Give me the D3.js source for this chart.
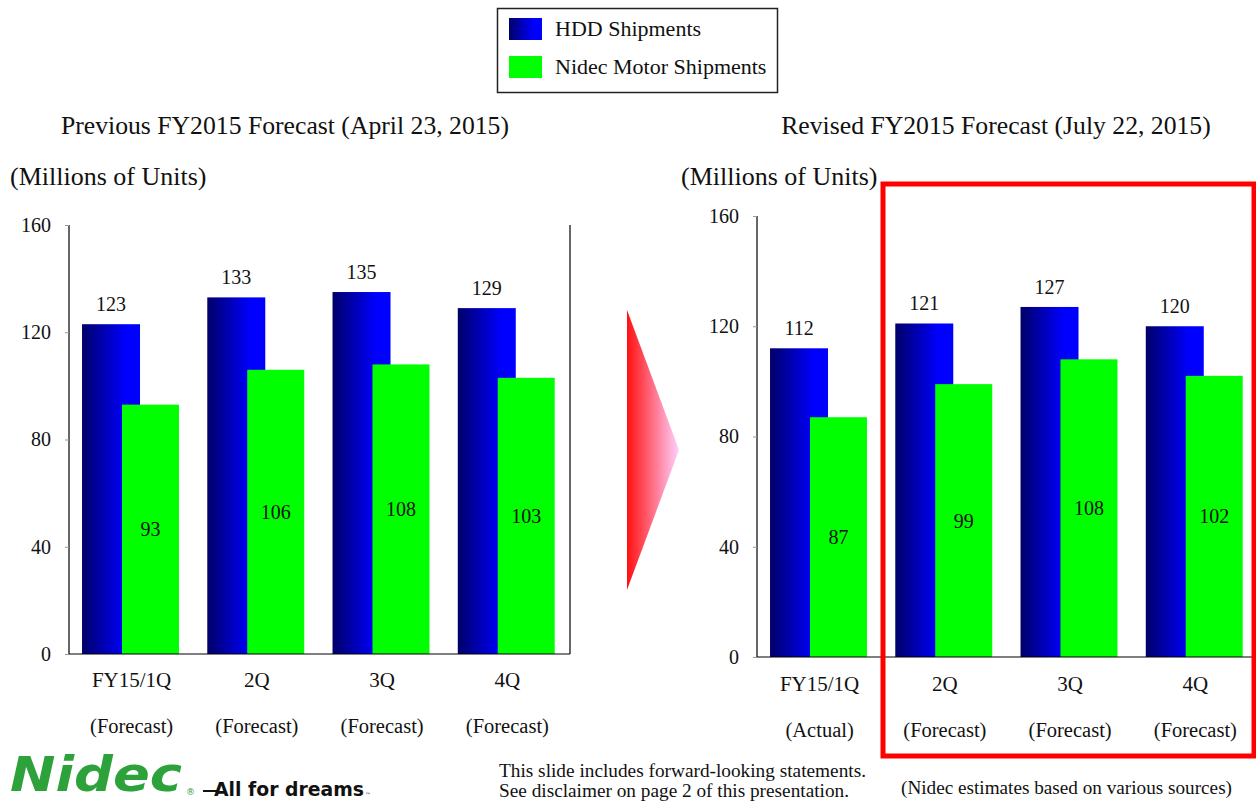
<!DOCTYPE html>
<html>
<head>
<meta charset="utf-8">
<script src="https://cdn.jsdelivr.net/npm/d3@7/dist/d3.min.js"></script>
<style>
  html, body { margin: 0; padding: 0; background: #fff; }
  svg { display: block; }
  text { font-family: "Liberation Serif", "Times New Roman", serif; fill: #111; }
</style>
</head>
<body>
<svg id="chart" width="1256" height="802"></svg>
<script>
// Quarterly categories and shipment figures (millions of units)
const categories = ["FY15/1Q", "2Q", "3Q", "4Q"];
const prevSubLabels = ["(Forecast)", "(Forecast)", "(Forecast)", "(Forecast)"];
const revSubLabels = ["(Actual)", "(Forecast)", "(Forecast)", "(Forecast)"];

const prevHDD = [123, 133, 135, 129];
const prevMotor = [93, 106, 108, 103];
const revHDD = [112, 121, 127, 120];
const revMotor = [87, 99, 108, 102];

const yTicks = [0, 40, 80, 120, 160];
const seriesNames = ["HDD Shipments", "Nidec Motor Shipments"];

const svg = d3.select("#chart");
const defs = svg.append("defs");

// Navy-to-blue shading used on HDD bars
const hddGrad = defs.append("linearGradient")
  .attr("id", "hddGrad").attr("x1", "0%").attr("x2", "100%").attr("y1", "0%").attr("y2", "0%");
hddGrad.append("stop").attr("offset", "0%").attr("stop-color", "#000068");
hddGrad.append("stop").attr("offset", "75%").attr("stop-color", "#0000ff");
hddGrad.append("stop").attr("offset", "100%").attr("stop-color", "#0000ff");

// Red-to-pink shading for the transition arrow
const arrowGrad = defs.append("linearGradient")
  .attr("id", "arrowGrad").attr("x1", "0%").attr("x2", "100%").attr("y1", "0%").attr("y2", "0%");
arrowGrad.append("stop").attr("offset", "0%").attr("stop-color", "#ff1010");
arrowGrad.append("stop").attr("offset", "100%").attr("stop-color", "#ffd0ff");

const MOTOR_COLOR = "#00ff00";

function drawPanel(opts) {
  const { x0, x1, yTop, yBottom, hdd, motor, subLabels, title, titleX, unitX, catY } = opts;
  const g = svg.append("g");

  const x = d3.scaleBand().domain(categories).range([x0, x1]).paddingInner(0).paddingOuter(0);
  const y = d3.scaleLinear().domain([0, 160]).range([yBottom, yTop]);
  const bw = x.bandwidth();
  const hddOff = bw * 0.104, hddW = bw * 0.463;
  const motOff = bw * 0.423, motW = bw * 0.455;

  // Title and unit caption
  g.append("text").attr("x", titleX).attr("y", 134).attr("text-anchor", "middle")
    .style("font-size", "25.7px").text(title);
  g.append("text").attr("x", unitX).attr("y", 185)
    .style("font-size", "26px").text("(Millions of Units)");

  // HDD bars
  g.selectAll(".hdd").data(hdd).join("rect")
    .attr("x", (d, i) => x(categories[i]) + hddOff)
    .attr("width", hddW)
    .attr("y", d => y(d))
    .attr("height", d => y(0) - y(d))
    .attr("fill", "url(#hddGrad)");

  // Motor bars, overlapping the HDD bars
  g.selectAll(".mot").data(motor).join("rect")
    .attr("x", (d, i) => x(categories[i]) + motOff)
    .attr("width", motW)
    .attr("y", d => y(d))
    .attr("height", d => y(0) - y(d))
    .attr("fill", MOTOR_COLOR);

  // HDD value labels above bars
  g.selectAll(".hddLbl").data(hdd).join("text")
    .attr("x", (d, i) => x(categories[i]) + hddOff + hddW / 2)
    .attr("y", d => y(d) - 13)
    .attr("text-anchor", "middle")
    .style("font-size", "20px")
    .text(d => d);

  // Motor value labels centred inside bars
  g.selectAll(".motLbl").data(motor).join("text")
    .attr("x", (d, i) => x(categories[i]) + motOff + motW / 2)
    .attr("y", d => (y(d) + y(0)) / 2 + 7)
    .attr("text-anchor", "middle")
    .style("font-size", "20px")
    .text(d => d);

  // Y axis
  const axis = d3.axisLeft(y).tickValues(yTicks).tickSize(4).tickPadding(14).tickFormat(d3.format("d"));
  const ax = g.append("g").attr("transform", `translate(${x0},0)`).call(axis);
  ax.select(".domain").attr("stroke", "#000").attr("stroke-width", 1.2).attr("d", `M0,${yTop}V${yBottom}`);
  ax.selectAll(".tick line").attr("stroke", "#999");
  ax.selectAll(".tick text").style("font-size", "20px").style("font-family", "Liberation Serif, serif").attr("fill", "#111");

  // Baseline
  g.append("line").attr("x1", x0).attr("x2", x1).attr("y1", yBottom).attr("y2", yBottom)
    .attr("stroke", "#000").attr("stroke-width", 1.2);
  // Right frame edge
  g.append("line").attr("x1", x1).attr("x2", x1).attr("y1", yTop).attr("y2", yBottom)
    .attr("stroke", "#000").attr("stroke-width", 1.2);

  // Category labels
  g.selectAll(".cat").data(categories).join("text")
    .attr("x", d => x(d) + bw / 2)
    .attr("y", catY)
    .attr("text-anchor", "middle")
    .style("font-size", "21px")
    .text(d => d);
  g.selectAll(".sub").data(subLabels).join("text")
    .attr("x", (d, i) => x(categories[i]) + bw / 2)
    .attr("y", catY + 46)
    .attr("text-anchor", "middle")
    .style("font-size", "20.5px")
    .text(d => d);

  return { x, y };
}

drawPanel({
  x0: 69, x1: 570, yTop: 225, yBottom: 654,
  hdd: prevHDD, motor: prevMotor, subLabels: prevSubLabels,
  title: "Previous FY2015 Forecast (April 23, 2015)", titleX: 285, unitX: 10, catY: 687
});

drawPanel({
  x0: 757, x1: 1258, yTop: 216, yBottom: 657,
  hdd: revHDD, motor: revMotor, subLabels: revSubLabels,
  title: "Revised FY2015 Forecast (July 22, 2015)", titleX: 996, unitX: 681, catY: 691
});

// Highlight around the revised forecast quarters
svg.append("rect").attr("x", 883).attr("y", 184).attr("width", 371).attr("height", 572)
  .attr("fill", "none").attr("stroke", "#ff0000").attr("stroke-width", 5);

// Transition arrow
svg.append("polygon").attr("points", "627,310 679,450 627,590").attr("fill", "url(#arrowGrad)");

// Legend
const legend = svg.append("g");
legend.append("rect").attr("x", 497.5).attr("y", 8.5).attr("width", 280).attr("height", 84)
  .attr("fill", "#fff").attr("stroke", "#222").attr("stroke-width", 1.5);
const legendFills = ["url(#hddGrad)", MOTOR_COLOR];
seriesNames.forEach((name, i) => {
  legend.append("rect").attr("x", 509).attr("y", 18 + i * 38).attr("width", 33).attr("height", 22)
    .attr("fill", legendFills[i]);
  legend.append("text").attr("x", 555).attr("y", 36 + i * 38).style("font-size", "22px").text(name);
});

// Footer notes
svg.append("text").attr("x", 499).attr("y", 777).style("font-size", "18px")
  .attr("textLength", 367).attr("lengthAdjust", "spacingAndGlyphs")
  .text("This slide includes forward-looking statements.");
svg.append("text").attr("x", 499).attr("y", 797).style("font-size", "18px")
  .attr("textLength", 350).attr("lengthAdjust", "spacingAndGlyphs")
  .text("See disclaimer on page 2 of this presentation.");
svg.append("text").attr("x", 901).attr("y", 794).style("font-size", "18px")
  .attr("textLength", 331).attr("lengthAdjust", "spacingAndGlyphs")
  .text("(Nidec estimates based on various sources)");

// Company mark
const logo = svg.append("g");
logo.append("text").attr("x", 10).attr("y", 791)
  .style("font-family", "DejaVu Sans, sans-serif").style("font-weight", "bold").style("font-style", "italic")
  .style("font-size", "48px").style("fill", "#2ea23a")
  .attr("textLength", 172).attr("lengthAdjust", "spacingAndGlyphs")
  .text("Nidec");
logo.append("text").attr("x", 186).attr("y", 795)
  .style("font-family", "DejaVu Sans, sans-serif").style("font-size", "9px").style("fill", "#2ea23a")
  .text("®");
logo.append("line").attr("x1", 203).attr("x2", 218).attr("y1", 791).attr("y2", 791)
  .attr("stroke", "#111").attr("stroke-width", 2);
logo.append("text").attr("x", 214).attr("y", 796)
  .style("font-family", "DejaVu Sans, sans-serif").style("font-weight", "bold")
  .style("font-size", "19px").style("fill", "#111")
  .attr("textLength", 150).attr("lengthAdjust", "spacingAndGlyphs")
  .text("All for dreams");
logo.append("text").attr("x", 365).attr("y", 797)
  .style("font-family", "DejaVu Sans, sans-serif").style("font-size", "6px").style("fill", "#111")
  .text("™");
</script>
</body>
</html>
